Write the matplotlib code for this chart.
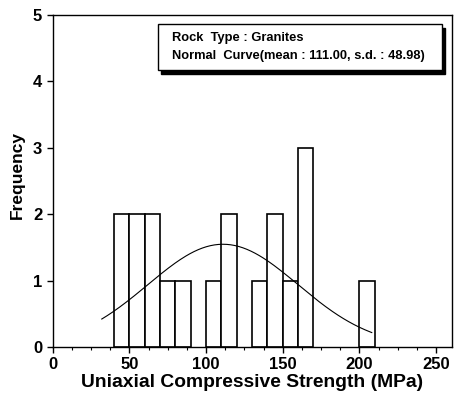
import numpy as np
import matplotlib
matplotlib.use('Agg')
import matplotlib.pyplot as plt
from matplotlib.ticker import MultipleLocator
from matplotlib.patches import Rectangle

plt.rcParams['font.family'] = ['Liberation Sans', 'DejaVu Sans']

# histogram of UCS values, 10 MPa bins
bin_left = [40, 50, 60, 70, 80, 100, 110, 130, 140, 150, 160, 200]
counts = [2, 2, 2, 1, 1, 1, 2, 1, 2, 1, 3, 1]
bin_width = 10

mean = 111.00
sd = 48.98
curve_lo, curve_hi = 32, 208

fig = plt.figure(figsize=(4.57, 3.95), dpi=100)
ax = fig.add_axes([0.1153, 0.1215, 0.8727, 0.8405])

ax.bar(bin_left, counts, width=bin_width, align='edge',
       facecolor='white', edgecolor='black', linewidth=1.2, zorder=2)

# fitted normal curve scaled to counts
n = sum(counts)
xs = np.linspace(curve_lo, curve_hi, 200)
ys = n * bin_width / (sd * np.sqrt(2 * np.pi)) * np.exp(-0.5 * ((xs - mean) / sd) ** 2)
ax.plot(xs, ys, color='black', linewidth=0.8, zorder=3)

ax.set_xlim(0, 260)
ax.set_ylim(0, 5)
ax.xaxis.set_major_locator(MultipleLocator(50))
ax.xaxis.set_minor_locator(MultipleLocator(12.5))
ax.yaxis.set_major_locator(MultipleLocator(1))
ax.tick_params(which='major', direction='out', length=4, width=1,
               labelsize=12)
ax.tick_params(which='minor', direction='out', length=2.5, width=0.8)
for lbl in ax.get_xticklabels() + ax.get_yticklabels():
    lbl.set_fontweight('bold')
for s in ax.spines.values():
    s.set_linewidth(1.0)

ax.set_xlabel('Uniaxial Compressive Strength (MPa)', fontsize=13.9,
              fontweight='bold', labelpad=1)
ax.set_ylabel('Frequency', fontsize=12.5, fontweight='bold', labelpad=4)
ax.yaxis.set_label_coords(-0.07, 0.518)

# info box with drop shadow
bx0, by0, bw, bh = 0.263, 0.834, 0.712, 0.139
ax.add_patch(Rectangle((bx0 + 0.009, by0 - 0.013), bw, bh, transform=ax.transAxes,
                       facecolor='black', edgecolor='black', zorder=4))
ax.add_patch(Rectangle((bx0, by0), bw, bh, transform=ax.transAxes,
                       facecolor='white', edgecolor='black', linewidth=1.0, zorder=5))
ax.text(bx0 + 0.035, by0 + bh * 0.70, 'Rock  Type : Granites', transform=ax.transAxes,
        fontsize=9.3, fontweight='bold', va='center', zorder=6)
ax.text(bx0 + 0.035, by0 + bh * 0.30, 'Normal  Curve(mean : 111.00, s.d. : 48.98)',
        transform=ax.transAxes, fontsize=9.3, fontweight='bold', va='center', zorder=6)

fig.savefig('out.png', dpi=100)
